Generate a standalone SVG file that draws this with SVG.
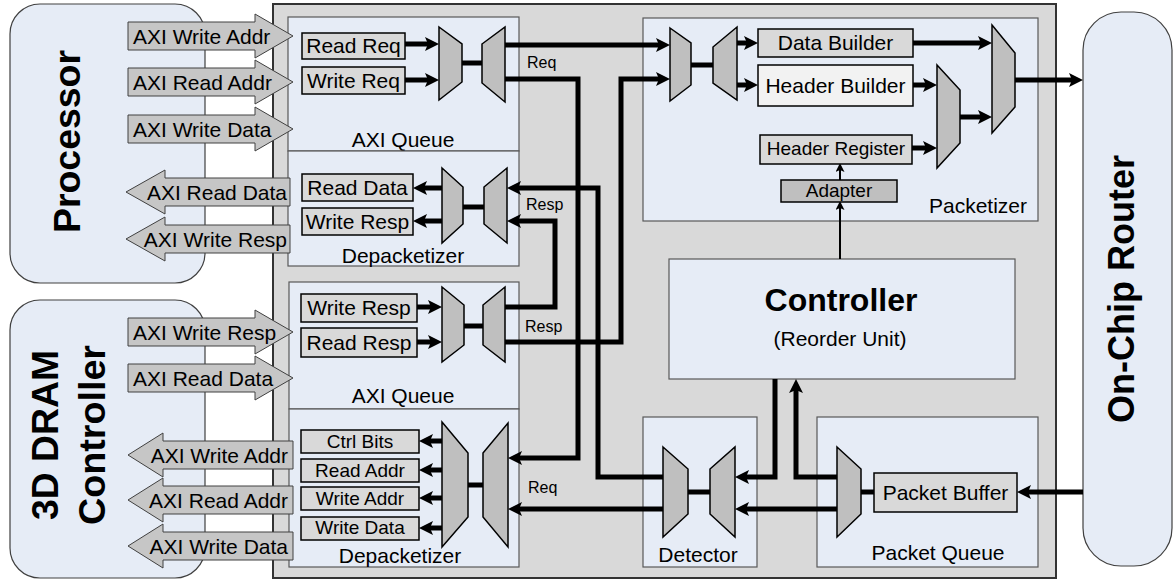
<svg xmlns="http://www.w3.org/2000/svg" width="1175" height="583" viewBox="0 0 1175 583">
<defs>
<style>
.bg{fill:#d9d9d9;stroke:#333;stroke-width:2}
.panel{fill:#e6ecf6;stroke:#595959;stroke-width:1.2}
.ext{fill:#e6ecf6;stroke:#404040;stroke-width:1.2}
.box{fill:#d9d9d9;stroke:#000;stroke-width:1.5}
.light{fill:#f2f2f2;stroke:#000;stroke-width:1.5}
.dark{fill:#bfbfbf;stroke:#000;stroke-width:1.5}
.mux{fill:#bfbfbf;stroke:#000;stroke-width:1.5}
.ba{fill:#c6c6c6;stroke:#404040;stroke-width:1}
.w{fill:none;stroke:#000;stroke-width:5}
.wa{fill:none;stroke:#000;stroke-width:5;marker-end:url(#ah)}
.ta{fill:none;stroke:#000;stroke-width:2;marker-end:url(#sh)}
text{font-family:"Liberation Sans",Arial,sans-serif;fill:#000}
.t21{font-size:21px}
.t19{font-size:19px}
.t16{font-size:16px}
.m{text-anchor:middle}
.e{text-anchor:end}
.big{font-size:36px;font-weight:bold;text-anchor:middle}
</style>
<marker id="ah" markerUnits="userSpaceOnUse" markerWidth="14" markerHeight="14" refX="5" refY="7" orient="auto"><path d="M0,0 L14,7 L0,14 L3,7 z" fill="#000"/></marker>
<marker id="sh" markerUnits="userSpaceOnUse" markerWidth="9" markerHeight="9" refX="3" refY="4.5" orient="auto"><path d="M0,0 L9,4.5 L0,9 L2,4.5 z" fill="#000"/></marker>
</defs>

<g id="processor">
<rect class="ext" x="10" y="4" width="195" height="279" rx="30"/>
<text class="big" transform="translate(80,141.5) rotate(-90)" textLength="183" lengthAdjust="spacingAndGlyphs">Processor</text>
</g>
<g id="dram">
<rect class="ext" x="10" y="300" width="195" height="278" rx="30"/>
<text class="big" transform="translate(58,435) rotate(-90)" textLength="170" lengthAdjust="spacingAndGlyphs">3D DRAM</text>
<text class="big" transform="translate(105,435) rotate(-90)" textLength="180" lengthAdjust="spacingAndGlyphs">Controller</text>
</g>
<g id="router">
<rect class="ext" x="1083" y="12" width="89" height="554" rx="38"/>
<text class="big" transform="translate(1134,289) rotate(-90)">On-Chip Router</text>
</g>

<g id="interface">
<rect class="bg" x="273" y="4" width="783" height="574"/>
</g>

<g id="axi-queue-top">
<rect class="panel" x="288" y="17" width="231" height="134"/>
<text class="t21 m" x="403" y="147">AXI Queue</text>
</g>
<g id="depacketizer-top">
<rect class="panel" x="288" y="151" width="231" height="115"/>
<text class="t21 m" x="403" y="263">Depacketizer</text>
</g>
<g id="axi-queue-bottom">
<rect class="panel" x="289" y="282" width="230" height="127"/>
<text class="t21 m" x="403" y="403">AXI Queue</text>
</g>
<g id="depacketizer-bottom">
<rect class="panel" x="289" y="409" width="230" height="158"/>
<text class="t21 m" x="400" y="563">Depacketizer</text>
</g>
<g id="packetizer">
<rect class="panel" x="643" y="18" width="395" height="203"/>
<text class="t21 m" x="978" y="213">Packetizer</text>
</g>
<g id="controller">
<rect class="panel" x="669" y="259" width="346" height="120"/>
<text x="841" y="311" style="font-size:32px;font-weight:bold;text-anchor:middle">Controller</text>
<text class="t21 m" x="840" y="346">(Reorder Unit)</text>
</g>
<g id="detector">
<rect class="panel" x="643" y="417" width="114" height="150"/>
<text class="t21 m" x="698" y="562">Detector</text>
</g>
<g id="packet-queue">
<rect class="panel" x="817" y="417" width="221" height="150"/>
<text class="t21 m" x="938" y="560">Packet Queue</text>
</g>

<g id="proc-signals">
<polygon class="ba" points="128,22 255,22 255,14 293,36 255,58 255,50 128,50"/>
<text class="t21" x="133" y="44">AXI Write Addr</text>
<polygon class="ba" points="128,68 255,68 255,60 293,82 255,104 255,96 128,96"/>
<text class="t21" x="133" y="90">AXI Read Addr</text>
<polygon class="ba" points="128,115 255,115 255,107 293,129 255,151 255,143 128,143"/>
<text class="t21" x="133" y="137">AXI Write Data</text>
<polygon class="ba" points="126,192 165,170 165,178 290,178 290,206 165,206 165,214"/>
<text class="t21 e" x="287" y="200">AXI Read Data</text>
<polygon class="ba" points="126,239 165,217 165,225 290,225 290,253 165,253 165,261"/>
<text class="t21 e" x="287" y="247">AXI Write Resp</text>
</g>
<g id="dram-signals">
<polygon class="ba" points="128,318 255,318 255,310 293,332 255,354 255,346 128,346"/>
<text class="t21" x="133" y="340">AXI Write Resp</text>
<polygon class="ba" points="128,364 255,364 255,356 293,378 255,400 255,392 128,392"/>
<text class="t21" x="133" y="386">AXI Read Data</text>
<polygon class="ba" points="128,455 163,433 163,441 293,441 293,469 163,469 163,477"/>
<text class="t21 e" x="288" y="463">AXI Write Addr</text>
<polygon class="ba" points="128,500 163,478 163,486 293,486 293,514 163,514 163,522"/>
<text class="t21 e" x="288" y="508">AXI Read Addr</text>
<polygon class="ba" points="128,546 163,524 163,532 293,532 293,560 163,560 163,568"/>
<text class="t21 e" x="288" y="554">AXI Write Data</text>
</g>

<g id="connectors">
<path class="wa" d="M405,44 H430"/>
<path class="wa" d="M405,80 H430"/>
<path class="w" d="M462,63 H483"/>
<path class="wa" d="M505,45 H661"/>
<path class="wa" d="M505,79 H578 V458 H517"/>
<path class="wa" d="M505,307 H555 V221 H516"/>
<path class="wa" d="M505,342 H621 V79 H661"/>
<path class="wa" d="M663,477 H598 V188 H516"/>
<path class="wa" d="M663,509 H517"/>
<path class="wa" d="M442,188 H422"/>
<path class="wa" d="M442,221 H422"/>
<path class="w" d="M463,207 H484"/>
<path class="wa" d="M417,307 H433"/>
<path class="wa" d="M417,342 H433"/>
<path class="w" d="M464,326 H483"/>
<path class="wa" d="M442,441 H428"/>
<path class="wa" d="M442,470 H428"/>
<path class="wa" d="M442,498 H428"/>
<path class="wa" d="M442,528 H428"/>
<path class="w" d="M468,485 H483"/>
<path class="w" d="M688,492 H710"/>
<path class="wa" d="M775,379 V477 H744"/>
<path class="wa" d="M837,477 H796 V388"/>
<path class="wa" d="M837,509 H744"/>
<path class="w" d="M861,492 H874"/>
<path class="wa" d="M1083,492 H1026"/>
<path class="w" d="M691,65 H713"/>
<path class="wa" d="M737,43 H749"/>
<path class="wa" d="M737,85 H749"/>
<path class="wa" d="M913,43 H983"/>
<path class="wa" d="M913,85 H928"/>
<path class="wa" d="M912,148 H928"/>
<path class="wa" d="M960,117 H983"/>
<path class="wa" d="M1015,80 H1074"/>
<path class="ta" d="M840,259 V207"/>
<path class="ta" d="M840,180 V169"/>
<text class="t16" x="527" y="68">Req</text>
<text class="t16" x="526" y="210">Resp</text>
<text class="t16" x="525" y="332">Resp</text>
<text class="t16" x="528" y="493">Req</text>
</g>

<g id="muxes">
<polygon class="mux" points="439,27 462,44 462,82 439,100"/>
<polygon class="mux" points="482,44 505,27 505,102 482,83"/>
<polygon class="mux" points="442,168 463,187 463,224 442,243"/>
<polygon class="mux" points="484,187 507,168 507,243 484,224"/>
<polygon class="mux" points="442,287 464,305 464,345 442,362"/>
<polygon class="mux" points="483,305 505,287 505,362 483,345"/>
<polygon class="mux" points="442,422 468,453 468,517 442,547"/>
<polygon class="mux" points="483,453 508,423 508,547 483,517"/>
<polygon class="mux" points="663,447 688,469 688,514 663,537"/>
<polygon class="mux" points="710,469 735,447 735,537 710,514"/>
<polygon class="mux" points="837,447 861,469 861,514 837,537"/>
<polygon class="mux" points="670,28 691,43 691,85 670,101"/>
<polygon class="mux" points="713,47 737,27 737,100 713,83"/>
<polygon class="mux" points="937,65 960,90 960,143 937,168"/>
<polygon class="mux" points="992,25 1015,53 1015,107 992,133"/>
</g>

<g id="read-req"><rect class="box" x="302" y="33" width="103" height="26"/><text class="t21 m" x="353.5" y="53">Read Req</text></g>
<g id="write-req"><rect class="box" x="302" y="67" width="103" height="27"/><text class="t21 m" x="353.5" y="88">Write Req</text></g>
<g id="read-data"><rect class="box" x="302" y="174" width="111" height="27"/><text class="t21 m" x="357.5" y="195">Read Data</text></g>
<g id="write-resp-top"><rect class="box" x="302" y="208" width="111" height="27"/><text class="t21 m" x="357.5" y="229">Write Resp</text></g>
<g id="write-resp-bottom"><rect class="box" x="301" y="294" width="116" height="28"/><text class="t21 m" x="359" y="315">Write Resp</text></g>
<g id="read-resp"><rect class="box" x="301" y="328" width="116" height="29"/><text class="t21 m" x="359" y="350">Read Resp</text></g>
<g id="ctrl-bits"><rect class="box" x="301" y="430" width="118" height="23"/><text class="t19 m" x="360" y="448">Ctrl Bits</text></g>
<g id="read-addr"><rect class="box" x="301" y="459" width="118" height="23"/><text class="t19 m" x="360" y="477">Read Addr</text></g>
<g id="write-addr"><rect class="box" x="301" y="487" width="118" height="23"/><text class="t19 m" x="360" y="505">Write Addr</text></g>
<g id="write-data"><rect class="box" x="301" y="517" width="118" height="23"/><text class="t19 m" x="360" y="534">Write Data</text></g>
<g id="data-builder"><rect class="box" x="758" y="29" width="155" height="28"/><text class="t21 m" x="835.5" y="50">Data Builder</text></g>
<g id="header-builder"><rect class="light" x="758" y="65" width="155" height="41"/><text class="t21 m" x="835.5" y="93">Header Builder</text></g>
<g id="header-register"><rect class="box" x="760" y="135" width="152" height="29"/><text class="t19 m" x="836" y="155">Header Register</text></g>
<g id="adapter"><rect class="dark" x="781" y="180" width="116" height="22"/><text class="t19 m" x="839" y="197">Adapter</text></g>
<g id="packet-buffer"><rect class="box" x="874" y="473" width="143" height="39"/><text class="t21 m" x="945.5" y="500">Packet Buffer</text></g>
</svg>
